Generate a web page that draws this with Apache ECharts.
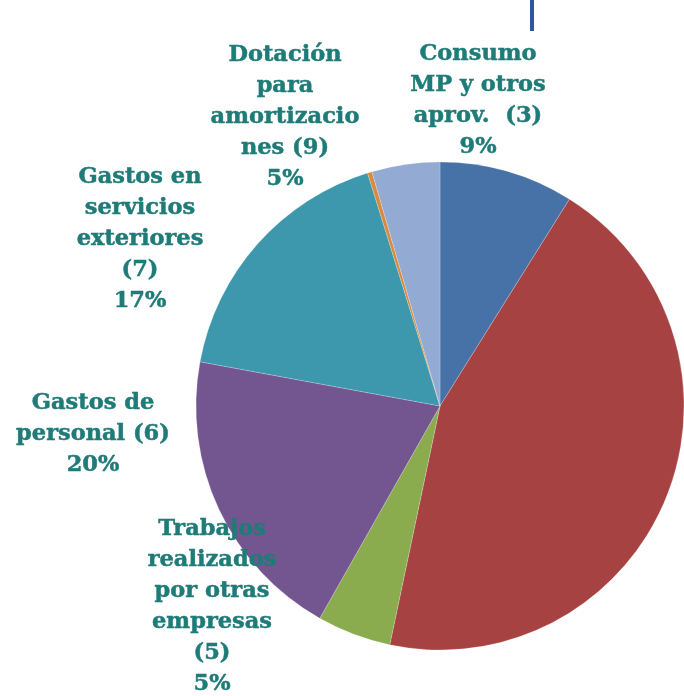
<!DOCTYPE html>
<html><head><meta charset="utf-8">
<script src="https://cdn.jsdelivr.net/npm/echarts@6/dist/echarts.min.js"></script>
<style>html,body{margin:0;padding:0;background:#fff}#c{width:684px;height:696px}</style>
</head><body><div id="c"></div>
<script>
var categories = [
  'Consumo\nMP y otros\naprov.  (3)',
  '',
  'Trabajos\nrealizados\npor otras\nempresas\n(5)',
  'Gastos de\npersonal (6)',
  'Gastos en\nservicios\nexteriores\n(7)',
  '',
  'Dotación\npara\namortizacio\nnes (9)'
];
var values = [8.9, 44.4, 4.9, 19.7, 17.3, 0.3, 4.5];
var percentLabels = ['9%', '', '5%', '20%', '17%', '', '5%'];
var colors = ['#4672a8', '#a64342', '#8aab4e', '#735690', '#3d98ad', '#d88b3e', '#93aad3'];

// label anchor positions (layout only)
var labelPos = {
  0: [478, 101],
  2: [212, 607],
  3: [93, 434],
  4: [140, 239],
  6: [285, 117]
};

var chart = echarts.init(document.getElementById('c'));
chart.setOption({
  backgroundColor: '#ffffff',
  animation: false,
  graphic: [{
    type: 'rect', shape: {x: 530, y: 0, width: 4, height: 31},
    style: {fill: '#2f56a2'}
  }],
  series: [{
    type: 'pie',
    center: [440, 406],
    radius: 244,
    startAngle: 90,
    clockwise: true,
    avoidLabelOverlap: false,
    labelLine: {show: false},
    itemStyle: {borderColor: 'rgba(255,255,255,0.35)', borderWidth: 0.6},
    label: {
      show: true,
      position: 'outside',
      formatter: function (p) { return categories[p.dataIndex] + '\n' + percentLabels[p.dataIndex]; },
      fontFamily: 'DejaVu Serif',
      fontWeight: 'bold',
      fontSize: 22.5,
      lineHeight: 31,
      color: '#1f7b77',
      textBorderColor: '#1f7b77',
      textBorderWidth: 0.5,
      align: 'center'
    },
    labelLayout: function (p) {
      var pos = labelPos[p.dataIndex];
      if (!pos) return {};
      return {x: pos[0], y: pos[1], align: 'center', verticalAlign: 'middle'};
    },
    data: values.map(function (v, i) {
      return {
        value: v,
        name: categories[i] || ('s' + i),
        itemStyle: {color: colors[i]},
        label: {show: !!percentLabels[i]}
      };
    })
  }]
});
</script>
</body></html>
